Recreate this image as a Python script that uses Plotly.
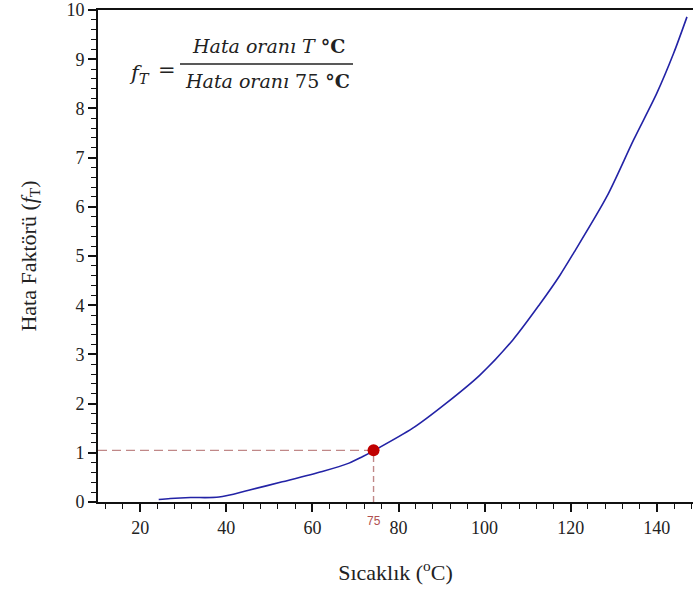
import plotly.graph_objects as go

# Data
temperature = [24.3, 27, 31.7, 38.3, 45.2, 53, 62.3, 68.5, 71.6, 74.2, 83.3, 91.1, 98.9,
               106.6, 112.8, 117.5, 120.6, 128.4, 134.6, 140.0, 143.9, 147.0]
factor = [0.05, 0.07, 0.09, 0.10, 0.24, 0.41, 0.62, 0.79, 0.92, 1.04, 1.50, 2.01, 2.58,
          3.30, 4.02, 4.61, 5.05, 6.21, 7.36, 8.31, 9.12, 9.86]
ref_temp = [74.2]
ref_factor = [1.05]
ref_label = "75"
x_ticks = [20, 40, 60, 80, 100, 120, 140]
y_ticks = [0, 1, 2, 3, 4, 5, 6, 7, 8, 9, 10]

serif = "Liberation Serif"

fig = go.Figure()
fig.add_trace(go.Scatter(x=temperature, y=factor, mode="lines",
                         line=dict(color="#2323a6", width=1.6, shape="spline", smoothing=0.8),
                         showlegend=False))
# dashed guides
fig.add_trace(go.Scatter(x=[10.2, ref_temp[0]], y=[ref_factor[0], ref_factor[0]], mode="lines",
                         line=dict(color="#c08888", width=1.4, dash="9px,5px"), showlegend=False))
fig.add_trace(go.Scatter(x=[ref_temp[0], ref_temp[0]], y=[0, ref_factor[0]], mode="lines",
                         line=dict(color="#c08888", width=1.4, dash="6px,4px"), showlegend=False))
fig.add_trace(go.Scatter(x=ref_temp, y=ref_factor, mode="markers",
                         marker=dict(color="#c00000", size=12), showlegend=False))

fig.add_annotation(x=ref_temp[0], y=0, yshift=-19, text=ref_label, showarrow=False,
                   font=dict(family="Liberation Sans", size=12, color="#b05050"))

# formula
ff = "DejaVu Serif"
def ann(px, py, text, size):
    fig.add_annotation(xref="paper", yref="paper", x=(px - 98) / 595, y=(502 - py) / 492,
                       xanchor="center", yanchor="middle", text=text, showarrow=False,
                       font=dict(family=ff, size=size, color="#222"))

ann(139, 74, "<i>f</i><sub><i>T</i></sub>", 21)
ann(167, 70, "=", 21)
ann(268, 46, "<i>Hata oranı T</i> <b>°C</b>", 19)
ann(267, 81, "<i>Hata oranı</i> 75 <b>°C</b>", 19)
fig.add_shape(type="line", xref="paper", yref="paper",
              x0=(180 - 98) / 595, x1=(353 - 98) / 595,
              y0=(502 - 64) / 492, y1=(502 - 64) / 492,
              line=dict(color="#222", width=1.3))

tickfont = dict(family=serif, size=18, color="#222")
fig.update_xaxes(range=[10.2, 148.4], tickvals=x_ticks, ticks="outside", ticklen=8, tickwidth=1.5,
                 tickcolor="#111", showline=True, linecolor="#111", linewidth=2, mirror=True,
                 showgrid=False, zeroline=False, tickfont=tickfont,
                 minor=dict(tick0=0, dtick=4, ticks="outside", ticklen=5, tickwidth=1.3,
                            tickcolor="#111", showgrid=False),
                 title=dict(text="Sıcaklık (<sup>o</sup>C)", standoff=28,
                            font=dict(family=serif, size=22, color="#222")))
fig.update_yaxes(range=[0, 10], tickvals=y_ticks, ticks="outside", ticklen=8, tickwidth=1.5,
                 tickcolor="#111", showline=True, linecolor="#111", linewidth=2,
                 showgrid=False, zeroline=False, tickfont=tickfont,
                 minor=dict(tick0=0, dtick=0.2, ticks="outside", ticklen=5, tickwidth=1.3,
                            tickcolor="#111", showgrid=False),
                 title=dict(text="Hata Faktörü (<i>f</i><sub>T</sub>)", standoff=24,
                            font=dict(family=serif, size=22, color="#222")))
fig.update_layout(width=693, height=595, margin=dict(l=98, r=0, t=10, b=93),
                  font=dict(family=serif, size=18, color="#222"),
                  plot_bgcolor="white", paper_bgcolor="white")
fig.write_html("out.html")
